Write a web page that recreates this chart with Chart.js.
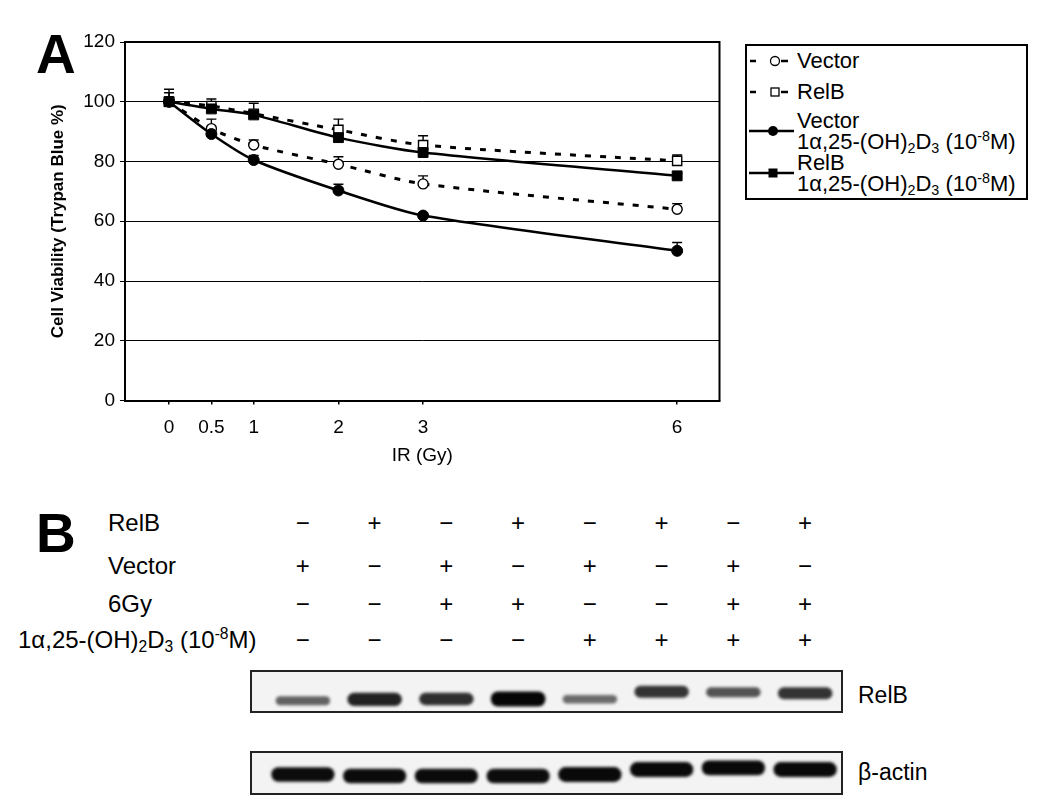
<!DOCTYPE html>
<html>
<head>
<meta charset="utf-8">
<script src="https://cdn.jsdelivr.net/npm/chart.js@4.4.1/dist/chart.umd.min.js"></script>
<style>
  body { margin: 0; background: #fff; width: 1050px; height: 810px; position: relative; overflow: hidden;
         font-family: "Liberation Sans", Arial, Helvetica, sans-serif; color: #000; }
  .t { position: absolute; line-height: 1; white-space: nowrap; }
  .panel { font-weight: bold; font-size: 55px; }
  .sub { font-size: 0.65em; vertical-align: -0.25em; line-height: 0; }
  .sup { font-size: 0.65em; vertical-align: 0.55em; line-height: 0; }
  #wrapA { position: absolute; left: 0; top: 0; width: 730px; height: 480px; }
  .legend { position: absolute; left: 745px; top: 44px; width: 283px; height: 156px; border: 2px solid #000; box-sizing: border-box; }
  .lg { font-size: 22px; left: 797px; }
  .blot { position: absolute; left: 250px; width: 593px; border: 2px solid #222; box-sizing: border-box; background: #f3f3f3; }
  .blot div { position: relative; width: 100%; height: 100%; }
</style>
</head>
<body>

<div class="t panel" style="left:36px; top:27px;">A</div>
<div id="wrapA"><canvas id="chartA"></canvas></div>

<div class="legend"></div>
<svg class="t" style="left:745px; top:51px;" width="52" height="20">
  <line x1="5" y1="10" x2="11" y2="10" stroke="#000" stroke-width="2.5"/>
  <line x1="36" y1="10" x2="43" y2="10" stroke="#000" stroke-width="2.5"/>
  <circle cx="30" cy="10" r="4.5" fill="#fff" stroke="#000" stroke-width="1.3"/>
</svg>
<div class="t lg" style="top:50px;">Vector</div>
<svg class="t" style="left:745px; top:82px;" width="52" height="20">
  <line x1="5" y1="10" x2="11" y2="10" stroke="#000" stroke-width="2.5"/>
  <line x1="36" y1="10" x2="43" y2="10" stroke="#000" stroke-width="2.5"/>
  <rect x="26" y="6" width="8" height="8" fill="#fff" stroke="#000" stroke-width="1.3"/>
</svg>
<div class="t lg" style="top:81px;">RelB</div>
<svg class="t" style="left:745px; top:121px;" width="52" height="20">
  <line x1="4" y1="10" x2="49" y2="10" stroke="#000" stroke-width="2.5"/>
  <circle cx="28" cy="10" r="5" fill="#000"/>
</svg>
<div class="t lg" style="top:110px;">Vector</div>
<div class="t lg" style="top:131px;">1α,25-(OH)<span class="sub">2</span>D<span class="sub">3</span> (10<span class="sup">-8</span>M)</div>
<svg class="t" style="left:745px; top:163px;" width="52" height="20">
  <line x1="4" y1="10" x2="49" y2="10" stroke="#000" stroke-width="2.5"/>
  <rect x="23.5" y="5.5" width="9" height="9" fill="#000"/>
</svg>
<div class="t lg" style="top:152px;">RelB</div>
<div class="t lg" style="top:173px;">1α,25-(OH)<span class="sub">2</span>D<span class="sub">3</span> (10<span class="sup">-8</span>M)</div>

<div class="t panel" style="left:36px; top:506px;">B</div>
<div id="conditions"></div>

<div class="blot" style="top:670px; height:43px;"><div><canvas id="blotRelb"></canvas></div></div>
<div class="t" style="left:858px; top:684px; font-size:23px;">RelB</div>
<div class="blot" style="top:751px; height:44px;"><div><canvas id="blotActin"></canvas></div></div>
<div class="t" style="left:858px; top:761px; font-size:23px;">β-actin</div>

<script>
// ---- panel A: cell viability after IR ----
const doses = [0, 0.5, 1, 2, 3, 6]
const xTickValues = [0, 0.5, 1, 2, 3, 6]

const vectorMean   = [100, 91.0, 85.5, 79.1, 72.5, 64.0]
const vectorErr    = [3.0, 3.2, 1.7, 2.5, 2.7, 1.9]
const relbMean     = [100, 98.6, 96.0, 90.6, 85.5, 80.2]
const relbErr      = [1.5, 2.3, 1.0, 3.6, 3.1, 2.0]
const vectorD3Mean = [100, 89.2, 80.5, 70.3, 61.9, 50.1]
const vectorD3Err  = [4.2, 1.5, 1.5, 2.1, 0.9, 2.8]
const relbD3Mean   = [100, 97.6, 95.6, 88.0, 83.0, 75.2]
const relbD3Err    = [1.0, 1.5, 3.9, 1.0, 1.0, 0.8]

// ---- panel B: treatment table and western blot ----
const conditionRows = [
  { label: 'RelB',   left: 108 },
  { label: 'Vector', left: 108 },
  { label: '6Gy',    left: 108 },
  { label: '1α,25-(OH)<span class="sub">2</span>D<span class="sub">3</span> (10<span class="sup">-8</span>M)', left: 18 }
]
const relbOn   = [0, 1, 0, 1, 0, 1, 0, 1]
const vectorOn = [1, 0, 1, 0, 1, 0, 1, 0]
const gy6On    = [0, 0, 1, 1, 0, 0, 1, 1]
const d3On     = [0, 0, 0, 0, 1, 1, 1, 1]

const lanes = ['1', '2', '3', '4', '5', '6', '7', '8']
const relbIntensity  = [0.5, 0.85, 0.78, 1.0, 0.45, 0.75, 0.58, 0.75]
const relbMigration  = [28.7, 27.3, 27.0, 27.0, 27.3, 19.7, 20.3, 21.3]
const actinIntensity = [0.96, 0.97, 0.97, 0.96, 0.98, 0.98, 0.98, 0.98]
const actinMigration = [21.5, 23.0, 23.0, 23.0, 21.5, 16.5, 14.8, 16.5]

Chart.defaults.font.family = '"Liberation Sans", Arial, Helvetica, sans-serif'
Chart.defaults.color = '#000'

const pts = (means) => doses.map((d, i) => ({ x: d, y: means[i] }))

// error bars drawn before lines so the markers sit over them
const errorBars = {
  id: 'errorBars',
  beforeDatasetsDraw(chart) {
    const { ctx, scales: { x, y } } = chart
    ctx.save()
    ctx.strokeStyle = '#000'
    ctx.lineWidth = 1.4
    chart.data.datasets.forEach(ds => {
      if (!ds.errors) return
      ds.data.forEach((p, i) => {
        const px = x.getPixelForValue(p.x)
        const py = y.getPixelForValue(p.y)
        const top = y.getPixelForValue(p.y + ds.errors[i])
        ctx.beginPath()
        ctx.moveTo(px, py)
        ctx.lineTo(px, top)
        ctx.moveTo(px - 5, top)
        ctx.lineTo(px + 5, top)
        ctx.stroke()
      })
    })
    ctx.restore()
  }
}

const box = {
  id: 'box',
  afterDraw(chart) {
    const { ctx, chartArea: a } = chart
    ctx.save()
    ctx.strokeStyle = '#000'
    ctx.lineWidth = 2
    ctx.beginPath()
    ctx.moveTo(a.left, a.top)
    ctx.lineTo(a.right, a.top)
    ctx.lineTo(a.right, a.bottom)
    ctx.stroke()
    ctx.restore()
  }
}

const dashed = { borderColor: '#000', borderWidth: 3, borderDash: [6, 9], pointBackgroundColor: '#fff',
                 pointBorderColor: '#000', pointBorderWidth: 1.4, tension: 0.25 }
const solid  = { borderColor: '#000', borderWidth: 2.5, pointBackgroundColor: '#000',
                 pointBorderColor: '#000', pointBorderWidth: 1, tension: 0.25 }

new Chart(document.getElementById('chartA'), {
  type: 'line',
  data: {
    datasets: [
      { ...dashed, label: 'Vector', data: pts(vectorMean), errors: vectorErr, pointStyle: 'circle', pointRadius: 5, order: 4 },
      { ...dashed, label: 'RelB', data: pts(relbMean), errors: relbErr, pointStyle: 'rect', pointRadius: 6.5, order: 3 },
      { ...solid, label: 'Vector 1α,25-(OH)2D3', data: pts(vectorD3Mean), errors: vectorD3Err, pointStyle: 'circle', pointRadius: 5.5, order: 2 },
      { ...solid, label: 'RelB 1α,25-(OH)2D3', data: pts(relbD3Mean), errors: relbD3Err, pointStyle: 'rect', pointRadius: 7, order: 1 }
    ]
  },
  options: {
    animation: false,
    responsive: true,
    maintainAspectRatio: false,
    layout: { padding: { left: 40, top: 42, right: 10.5, bottom: 0 } },
    plugins: { legend: { display: false }, tooltip: { enabled: false } },
    scales: {
      x: {
        type: 'linear',
        min: -0.52,
        max: 6.5,
        afterBuildTicks(scale) { scale.ticks = xTickValues.map(v => ({ value: v })) },
        afterFit(scale) { scale.height = 79.5 },
        grid: { drawOnChartArea: false, drawTicks: true, tickLength: 4, color: '#000', lineWidth: 1.5 },
        border: { display: true, color: '#000', width: 2 },
        ticks: { autoSkip: false, maxRotation: 0, padding: 12, font: { size: 19 }, callback: v => String(v) },
        title: { display: true, text: 'IR (Gy)', font: { size: 19 }, padding: { top: 0, bottom: 13 } }
      },
      y: {
        min: 0,
        max: 120,
        afterFit(scale) { scale.width = 85 },
        ticks: { stepSize: 20, padding: 5, font: { size: 19 } },
        grid: { color: '#000', lineWidth: 1, tickLength: 5 },
        border: { display: true, color: '#000', width: 2 },
        title: { display: true, text: 'Cell Viability (Trypan Blue %)', font: { size: 17, weight: 'bold' },
                 padding: { top: 8, bottom: 0 } }
      }
    }
  },
  plugins: [ errorBars, box ]
})

// soft edges for the blot bands
const blur = {
  id: 'blur',
  beforeDatasetsDraw(chart) { chart.ctx.save(); chart.ctx.filter = 'blur(1.8px)' },
  afterDatasetsDraw(chart) { chart.ctx.restore() }
}

function bandShade(v) {
  const g = Math.round(190 - 185 * v)
  return `rgb(${g},${g},${g})`
}

function createBlot(canvas, intensity, migration, height, widthPct) {
  return new Chart(canvas, {
    type: 'bar',
    data: {
      labels: lanes,
      datasets: [{
        data: intensity.map((v, i) => {
          const t = 3 + 12 * v
          return [migration[i] - t / 2, migration[i] + t / 2]
        }),
        backgroundColor: ctx => bandShade(intensity[ctx.dataIndex]),
        borderWidth: 0,
        borderRadius: 7,
        borderSkipped: false,
        barPercentage: widthPct,
        categoryPercentage: 1
      }]
    },
    options: {
      animation: false,
      responsive: true,
      maintainAspectRatio: false,
      layout: { padding: { left: 15, right: 0, top: 0, bottom: 0 } },
      plugins: { legend: { display: false }, tooltip: { enabled: false } },
      scales: {
        x: { display: false },
        y: { display: false, min: 0, max: height, reverse: true }
      }
    },
    plugins: [ blur ]
  })
}

const relbBlot = createBlot(document.getElementById('blotRelb'), relbIntensity, relbMigration, 39, 0.76)
createBlot(document.getElementById('blotActin'), actinIntensity, actinMigration, 40, 0.88)

// treatment +/- table, columns aligned to the blot lanes
const condTable = document.getElementById('conditions')
const rowCenters = [523, 566, 604, 640]
const rowValues = [relbOn, vectorOn, gy6On, d3On]
const blotLeft = 252
conditionRows.forEach((row, r) => {
  const lab = document.createElement('div')
  lab.className = 't'
  lab.style.cssText = `left:${row.left}px; top:${rowCenters[r] - 12}px; font-size:24px;`
  lab.innerHTML = row.label
  condTable.appendChild(lab)
  rowValues[r].forEach((on, i) => {
    const cx = blotLeft + relbBlot.scales.x.getPixelForTick(i)
    const s = document.createElement('div')
    s.className = 't'
    s.style.cssText = `left:${cx - 20}px; width:40px; text-align:center; top:${rowCenters[r] - 12}px; font-size:24px;`
    s.textContent = on ? '+' : '\u2212'
    condTable.appendChild(s)
  })
})
</script>
</body>
</html>
